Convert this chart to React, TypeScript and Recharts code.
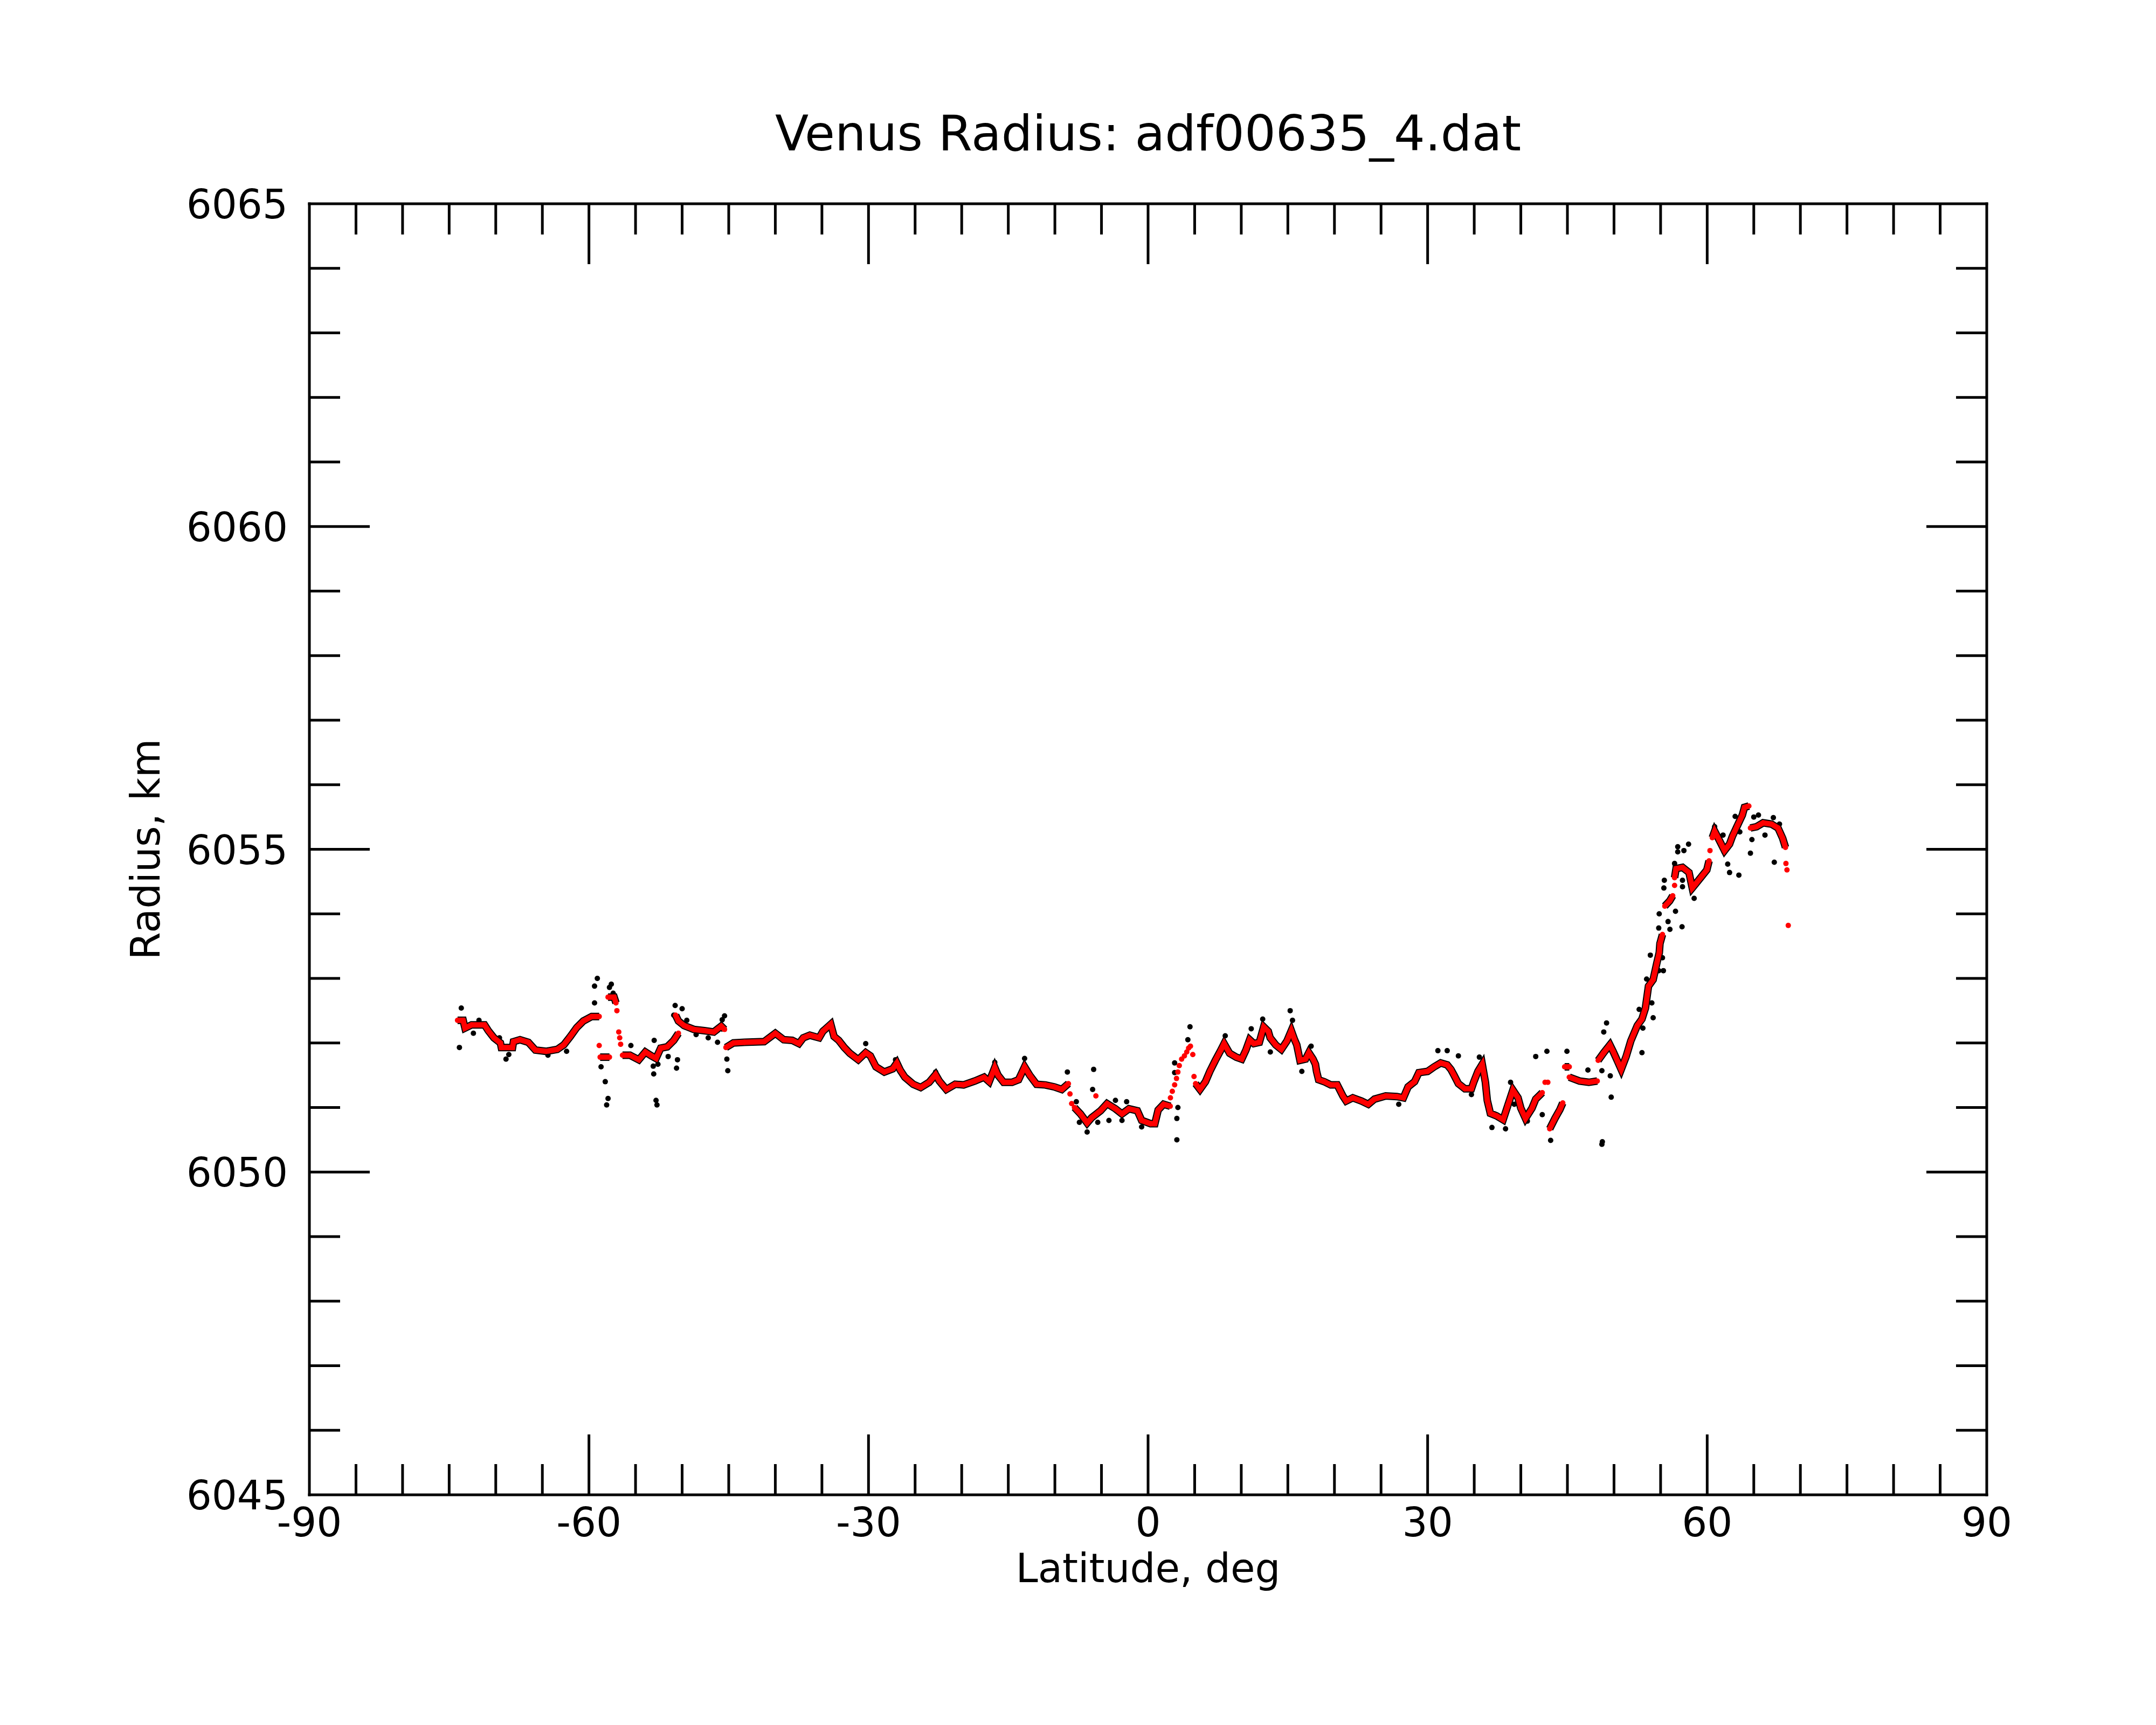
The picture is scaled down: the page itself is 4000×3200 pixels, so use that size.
import React from 'react';
import { ScatterChart, Scatter, XAxis, YAxis } from 'recharts';

type Pt = [number, number];

const X_TICKS = [-90, -85, -80, -75, -70, -65, -60, -55, -50, -45, -40, -35, -30, -25, -20, -15, -10, -5, 0, 5, 10, 15, 20, 25, 30, 35, 40, 45, 50, 55, 60, 65, 70, 75, 80, 85, 90];
const Y_TICKS = [6045, 6046, 6047, 6048, 6049, 6050, 6051, 6052, 6053, 6054, 6055, 6056, 6057, 6058, 6059, 6060, 6061, 6062, 6063, 6064, 6065];
const X_DOMAIN: [number, number] = [-90, 90];
const Y_DOMAIN: [number, number] = [6045, 6065];

const TITLE = 'Venus Radius: adf00635_4.dat';
const X_LABEL = 'Latitude, deg';
const Y_LABEL = 'Radius, km';

// smoothed (red) trace, continuous runs
const SMOOTH_A: Pt[] = [[-74.1, 6052.35], [-73.5, 6052.35], [-73.3, 6052.23], [-72.6, 6052.28], [-71.2, 6052.28], [-70.8, 6052.19], [-70.2, 6052.08], [-69.5, 6052.0], [-69.4, 6051.93], [-68.2, 6051.93], [-68.1, 6052.02], [-67.4, 6052.05], [-66.5, 6052.01], [-65.75, 6051.89], [-64.6, 6051.87], [-63.4, 6051.9], [-62.7, 6051.97], [-62.0, 6052.1], [-61.3, 6052.24], [-60.6, 6052.34], [-59.7, 6052.41], [-58.9, 6052.41]];
const SMOOTH_B: Pt[] = [[-58.8, 6051.78], [-57.8, 6051.78]];
const SMOOTH_C: Pt[] = [[-57.95, 6052.71], [-57.3, 6052.71], [-57.1, 6052.62]];
const SMOOTH_D1: Pt[] = [[-56.4, 6051.81], [-55.6, 6051.81], [-54.65, 6051.74], [-53.95, 6051.86], [-53.3, 6051.8], [-52.8, 6051.76], [-52.3, 6051.92], [-51.6, 6051.94], [-50.9, 6052.04], [-50.4, 6052.15]];
const SMOOTH_D2: Pt[] = [[-50.7, 6052.43], [-50.4, 6052.34], [-49.8, 6052.27], [-48.75, 6052.21], [-47.6, 6052.19], [-46.6, 6052.17], [-45.8, 6052.26], [-45.45, 6052.21]];
const SMOOTH_E: Pt[] = [[-45.3, 6051.93], [-44.5, 6052.0], [-43.3, 6052.01], [-41.2, 6052.02], [-40.0, 6052.15], [-39.1, 6052.05], [-38.18, 6052.04], [-37.47, 6051.99], [-37.0, 6052.08], [-36.3, 6052.12], [-35.3, 6052.08], [-34.9, 6052.18], [-34.05, 6052.29], [-33.7, 6052.1], [-33.2, 6052.04], [-32.6, 6051.93], [-32.0, 6051.84], [-31.1, 6051.74], [-30.3, 6051.85], [-29.8, 6051.8], [-29.2, 6051.63], [-28.3, 6051.55], [-27.4, 6051.6], [-26.96, 6051.69], [-26.6, 6051.58], [-26.1, 6051.47], [-25.2, 6051.36], [-24.4, 6051.31], [-23.5, 6051.39], [-22.8, 6051.51], [-22.4, 6051.41], [-21.65, 6051.28], [-20.7, 6051.36], [-19.8, 6051.35], [-18.6, 6051.41], [-17.6, 6051.47], [-17.05, 6051.4], [-16.45, 6051.62], [-16.1, 6051.5], [-15.5, 6051.39], [-14.6, 6051.39], [-13.9, 6051.43], [-13.25, 6051.63], [-12.7, 6051.5], [-11.97, 6051.36], [-11.03, 6051.35], [-10.08, 6051.32], [-9.26, 6051.28], [-8.55, 6051.37]];
const SMOOTH_F: Pt[] = [[-7.9, 6051.0], [-7.25, 6050.9], [-6.54, 6050.76], [-6.07, 6050.84], [-5.1, 6050.95], [-4.4, 6051.06], [-3.5, 6050.98], [-2.8, 6050.9], [-2.05, 6050.98], [-1.15, 6050.95], [-0.69, 6050.8], [0.26, 6050.75], [0.73, 6050.75], [1.08, 6050.96], [1.67, 6051.05], [2.38, 6051.02]];
const SMOOTH_G: Pt[] = [[5.1, 6051.37], [5.57, 6051.28], [6.16, 6051.4], [6.63, 6051.56], [7.22, 6051.73], [7.81, 6051.89], [8.16, 6051.99], [8.75, 6051.84], [9.46, 6051.78], [10.05, 6051.75], [10.5, 6051.89], [10.9, 6052.05], [11.35, 6051.99], [11.94, 6052.01], [12.41, 6052.25], [12.9, 6052.18], [13.1, 6052.08], [13.7, 6051.97], [14.3, 6051.9], [14.9, 6052.03], [15.37, 6052.19], [15.72, 6052.05], [15.96, 6051.97], [16.3, 6051.73], [16.9, 6051.75], [17.25, 6051.85], [17.7, 6051.75], [17.96, 6051.67], [18.08, 6051.56], [18.3, 6051.43], [18.9, 6051.4], [19.6, 6051.35], [20.3, 6051.35], [20.9, 6051.18], [21.26, 6051.1], [21.97, 6051.15], [22.9, 6051.1], [23.63, 6051.05], [24.3, 6051.13], [25.5, 6051.18], [26.7, 6051.17], [27.4, 6051.15], [27.9, 6051.32], [28.6, 6051.4], [29.06, 6051.54], [30.0, 6051.56], [30.7, 6051.63], [31.4, 6051.69], [32.1, 6051.66], [32.5, 6051.59], [32.8, 6051.51], [33.3, 6051.37], [34.0, 6051.29], [34.7, 6051.29], [34.96, 6051.4], [35.4, 6051.56], [35.86, 6051.67], [36.2, 6051.39], [36.4, 6051.11], [36.73, 6050.91], [37.4, 6050.87], [38.1, 6050.81], [38.6, 6051.03], [39.15, 6051.27], [39.7, 6051.15], [40.0, 6050.99], [40.5, 6050.83], [41.2, 6050.99], [41.6, 6051.13], [42.3, 6051.23]];
const SMOOTH_H: Pt[] = [[43.1, 6050.67], [43.66, 6050.83], [44.2, 6050.97], [44.5, 6051.07]];
const SMOOTH_I: Pt[] = [[44.7, 6051.63], [45.2, 6051.63]];
const SMOOTH_J: Pt[] = [[45.2, 6051.47], [46.3, 6051.41], [47.3, 6051.39], [48.2, 6051.41]];
const SMOOTH_K: Pt[] = [[48.3, 6051.73], [48.9, 6051.85], [49.56, 6051.97], [49.9, 6051.87], [50.4, 6051.71], [50.77, 6051.59], [51.3, 6051.79], [51.8, 6052.03], [52.5, 6052.27], [53.0, 6052.37], [53.37, 6052.54], [53.7, 6052.88], [54.2, 6052.98], [54.6, 6053.24], [54.86, 6053.4], [54.93, 6053.54], [55.2, 6053.68]];
const SMOOTH_L: Pt[] = [[55.45, 6054.12], [55.97, 6054.2], [56.3, 6054.28]];
const SMOOTH_M: Pt[] = [[56.5, 6054.56], [56.66, 6054.7], [57.35, 6054.72], [58.05, 6054.64], [58.4, 6054.4], [58.74, 6054.46], [59.4, 6054.58], [59.96, 6054.68], [60.2, 6054.82]];
const SMOOTH_M2: Pt[] = [[60.55, 6055.18], [60.8, 6055.28], [61.3, 6055.14], [61.86, 6054.98], [62.4, 6055.08], [62.7, 6055.2], [63.25, 6055.37], [63.77, 6055.53], [64.0, 6055.65], [64.47, 6055.67]];
const SMOOTH_N: Pt[] = [[64.64, 6055.33], [65.3, 6055.35], [66.0, 6055.41], [66.9, 6055.39], [67.6, 6055.33], [68.1, 6055.17], [68.4, 6055.03]];

const SMOOTH_RUNS: Pt[][] = [SMOOTH_A, SMOOTH_B, SMOOTH_C, SMOOTH_D1, SMOOTH_D2, SMOOTH_E, SMOOTH_F, SMOOTH_G, SMOOTH_H, SMOOTH_I, SMOOTH_J, SMOOTH_K, SMOOTH_L, SMOOTH_M, SMOOTH_M2, SMOOTH_N];

// smoothed (red) isolated points
const SMOOTH_DOTS: Pt[] = [[-58.9, 6051.96], [-57.0, 6052.5], [-56.8, 6052.17], [-56.7, 6052.08], [-56.6, 6051.98], [-8.38, 6051.21], [-8.2, 6051.06], [-5.6, 6051.18], [2.4, 6051.15], [2.6, 6051.25], [2.85, 6051.35], [3.05, 6051.45], [3.2, 6051.55], [3.35, 6051.65], [3.6, 6051.75], [3.9, 6051.8], [4.15, 6051.86], [4.35, 6051.92], [4.55, 6051.95], [4.8, 6051.82], [4.93, 6051.48], [42.6, 6051.39], [42.9, 6051.39], [56.5, 6054.44], [60.3, 6054.98], [68.45, 6054.78], [68.56, 6054.68], [68.7, 6053.82]];

// raw (black) measurements away from the smoothed trace
const RAW_OUTLIERS: Pt[] = [[-73.9, 6051.93], [-73.7, 6052.54], [-72.4, 6052.15], [-71.8, 6052.35], [-69.6, 6052.08], [-68.9, 6051.75], [-68.6, 6051.82], [-64.4, 6051.81], [-62.4, 6051.87], [-59.4, 6052.62], [-59.4, 6052.88], [-59.1, 6053.0], [-57.8, 6052.86], [-57.6, 6052.91], [-57.4, 6052.77], [-58.7, 6051.63], [-58.25, 6051.4], [-57.95, 6051.14], [-58.1, 6051.04], [-55.5, 6051.96], [-53.1, 6051.64], [-53.05, 6051.52], [-53.0, 6052.04], [-52.8, 6051.11], [-52.7, 6051.04], [-52.6, 6051.67], [-51.5, 6051.79], [-50.9, 6052.43], [-50.75, 6052.58], [-50.6, 6051.61], [-50.5, 6051.74], [-50.0, 6052.53], [-49.5, 6052.35], [-48.5, 6052.13], [-47.2, 6052.08], [-46.2, 6052.01], [-45.7, 6052.36], [-45.45, 6052.42], [-45.2, 6051.75], [-45.1, 6051.57], [-30.3, 6051.99], [-27.1, 6051.74], [-22.8, 6051.55], [-16.45, 6051.7], [-13.25, 6051.76], [-8.66, 6051.55], [-7.7, 6051.09], [-7.37, 6050.77], [-6.54, 6050.62], [-5.95, 6051.28], [-5.84, 6051.59], [-5.4, 6050.77], [-4.2, 6050.8], [-3.5, 6051.11], [-2.8, 6050.8], [-2.3, 6051.09], [-0.69, 6050.7], [2.85, 6051.69], [2.85, 6051.54], [3.09, 6050.83], [3.09, 6050.5], [3.2, 6051.0], [4.27, 6052.05], [4.5, 6052.25], [8.28, 6052.11], [11.07, 6052.22], [12.3, 6052.37], [13.12, 6051.86], [15.25, 6052.5], [15.5, 6052.35], [16.5, 6051.56], [17.5, 6051.95], [26.9, 6051.05], [31.1, 6051.88], [32.1, 6051.88], [33.3, 6051.8], [34.7, 6051.2], [35.55, 6051.78], [36.9, 6050.69], [38.36, 6050.67], [38.9, 6051.39], [39.3, 6051.05], [40.7, 6050.79], [41.6, 6051.79], [42.3, 6050.89], [42.8, 6051.87], [43.2, 6050.49], [44.95, 6051.87], [47.2, 6051.58], [48.7, 6050.43], [48.75, 6050.47], [48.7, 6051.57], [48.9, 6052.17], [49.2, 6052.31], [49.6, 6051.49], [49.7, 6051.16], [52.7, 6052.52], [53.0, 6051.85], [53.1, 6052.23], [53.5, 6052.99], [53.9, 6053.36], [54.06, 6052.62], [54.2, 6052.39], [54.8, 6053.12], [54.8, 6053.78], [54.85, 6054.0], [55.2, 6053.32], [55.3, 6053.12], [55.35, 6054.4], [55.4, 6054.52], [55.8, 6053.88], [56.0, 6053.76], [56.5, 6054.78], [56.6, 6054.04], [56.84, 6055.04], [56.84, 6054.96], [57.3, 6053.8], [57.35, 6054.52], [57.35, 6054.42], [57.5, 6054.98], [58.0, 6055.08], [58.6, 6054.24], [60.8, 6055.35], [61.7, 6055.22], [61.8, 6054.96], [62.2, 6054.77], [62.4, 6054.64], [63.0, 6055.51], [63.4, 6054.6], [63.5, 6055.27], [64.64, 6054.94], [64.8, 6055.15], [65.0, 6055.5], [65.5, 6055.53], [66.2, 6055.22], [67.1, 6055.49], [67.2, 6054.8], [67.76, 6055.39]];

const toRows = (pts: Pt[]) => pts.map(([lat, r]) => ({ lat, r }));

const FONT = 'DejaVu Sans';
const AXIS_W = 5;
const MAJOR_LEN = 112;
const MINOR_LEN = 57;

const BottomTick = (props: any) => {
  const { x, y, payload } = props;
  const v = payload.value;
  const major = v % 30 === 0;
  const edge = v === X_DOMAIN[0] || v === X_DOMAIN[1];
  return (
    <g>
      {!edge && <line x1={x} x2={x} y1={y} y2={y - (major ? MAJOR_LEN : MINOR_LEN)} stroke="#000" strokeWidth={AXIS_W} />}
      {major && (
        <text x={x} y={y + 77} textAnchor="middle" fontSize={74} fontFamily={FONT} fill="#000">{String(v)}</text>
      )}
    </g>
  );
};

const TopTick = (props: any) => {
  const { x, y, payload } = props;
  const v = payload.value;
  const major = v % 30 === 0;
  const edge = v === X_DOMAIN[0] || v === X_DOMAIN[1];
  if (edge) return <g />;
  return <line x1={x} x2={x} y1={y} y2={y + (major ? MAJOR_LEN : MINOR_LEN)} stroke="#000" strokeWidth={AXIS_W} />;
};

const LeftTick = (props: any) => {
  const { x, y, payload } = props;
  const v = payload.value;
  const major = v % 5 === 0;
  const edge = v === Y_DOMAIN[0] || v === Y_DOMAIN[1];
  return (
    <g>
      {!edge && <line x1={x} x2={x + (major ? MAJOR_LEN : MINOR_LEN)} y1={y} y2={y} stroke="#000" strokeWidth={AXIS_W} />}
      {major && (
        <text x={x - 40} y={y + 27} textAnchor="end" fontSize={74} fontFamily={FONT} fill="#000">{String(v)}</text>
      )}
    </g>
  );
};

const RightTick = (props: any) => {
  const { x, y, payload } = props;
  const v = payload.value;
  const major = v % 5 === 0;
  const edge = v === Y_DOMAIN[0] || v === Y_DOMAIN[1];
  if (edge) return <g />;
  return <line x1={x} x2={x - (major ? MAJOR_LEN : MINOR_LEN)} y1={y} y2={y} stroke="#000" strokeWidth={AXIS_W} />;
};

function TitleLabel(props: any) {
  const vb = props.viewBox || {};
  return (
    <text x={vb.x + vb.width / 2} y={vb.y + (vb.height || 0) - 99} textAnchor="middle" fontSize={91} fontFamily={FONT} fill="#000">{TITLE}</text>
  );
}

function XLabel(props: any) {
  const vb = props.viewBox || {};
  return (
    <text x={vb.x + vb.width / 2} y={vb.y + 162} textAnchor="middle" fontSize={74} fontFamily={FONT} fill="#000">{X_LABEL}</text>
  );
}

function YLabel(props: any) {
  const vb = props.viewBox || {};
  const cx = 288;
  const cy = vb.y + vb.height / 2;
  return (
    <text x={cx} y={cy} transform={`rotate(-90, ${cx}, ${cy})`} textAnchor="middle" fontSize={74} fontFamily={FONT} fill="#000">{Y_LABEL}</text>
  );
}

const redDot = (p: any) => <circle cx={p.cx} cy={p.cy} r={5} fill="#ff0000" />;
const blackDot = (p: any) => <circle cx={p.cx} cy={p.cy} r={5} fill="#000000" />;
const noDot = () => <g />;

const axisLine = { stroke: '#000', strokeWidth: AXIS_W, strokeLinecap: 'square' as const };

export default function App() {
  return (
    <div style={{ width: 3984, height: 3184, background: '#fff' }}>
      <ScatterChart width={3984} height={3184} margin={{ top: 369, right: 305, left: 0, bottom: 0 }}>
        <XAxis
          xAxisId="x"
          dataKey="lat"
          type="number"
          orientation="bottom"
          domain={X_DOMAIN}
          ticks={X_TICKS}
          interval={0}
          allowDataOverflow
          height={419}
          tickSize={0}
          tickMargin={0}
          tickLine={false}
          axisLine={axisLine}
          tick={<BottomTick />}
          label={<XLabel />}
        />
        <XAxis
          xAxisId="xt"
          dataKey="lat"
          type="number"
          orientation="top"
          domain={X_DOMAIN}
          ticks={X_TICKS}
          interval={0}
          allowDataOverflow
          height={1}
          tickSize={0}
          tickMargin={0}
          tickLine={false}
          axisLine={axisLine}
          tick={<TopTick />}
          label={<TitleLabel />}
        />
        <YAxis
          yAxisId="y"
          dataKey="r"
          type="number"
          orientation="left"
          domain={Y_DOMAIN}
          ticks={Y_TICKS}
          interval={0}
          allowDataOverflow
          width={566}
          tickSize={0}
          tickMargin={0}
          tickLine={false}
          axisLine={axisLine}
          tick={<LeftTick />}
          label={<YLabel />}
        />
        <YAxis
          yAxisId="yr"
          dataKey="r"
          type="number"
          orientation="right"
          domain={Y_DOMAIN}
          ticks={Y_TICKS}
          interval={0}
          allowDataOverflow
          width={1}
          tickSize={0}
          tickMargin={0}
          tickLine={false}
          axisLine={axisLine}
          tick={<RightTick />}
        />
        {SMOOTH_RUNS.map((run, i) => (
          <Scatter
            key={`band-${i}`}
            xAxisId="x"
            yAxisId="y"
            data={toRows(run)}
            line={{ stroke: '#000', strokeWidth: 14 }}
            lineType="joint"
            shape={noDot}
            isAnimationActive={false}
          />
        ))}
        <Scatter xAxisId="x" yAxisId="y" data={toRows(RAW_OUTLIERS)} shape={blackDot} isAnimationActive={false} />
        {SMOOTH_RUNS.map((run, i) => (
          <Scatter
            key={`smooth-${i}`}
            xAxisId="x"
            yAxisId="y"
            data={toRows(run)}
            line={{ stroke: '#ff0000', strokeWidth: 10 }}
            lineType="joint"
            shape={redDot}
            isAnimationActive={false}
          />
        ))}
        <Scatter xAxisId="x" yAxisId="y" data={toRows(SMOOTH_DOTS)} shape={redDot} isAnimationActive={false} />
      </ScatterChart>
    </div>
  );
}
